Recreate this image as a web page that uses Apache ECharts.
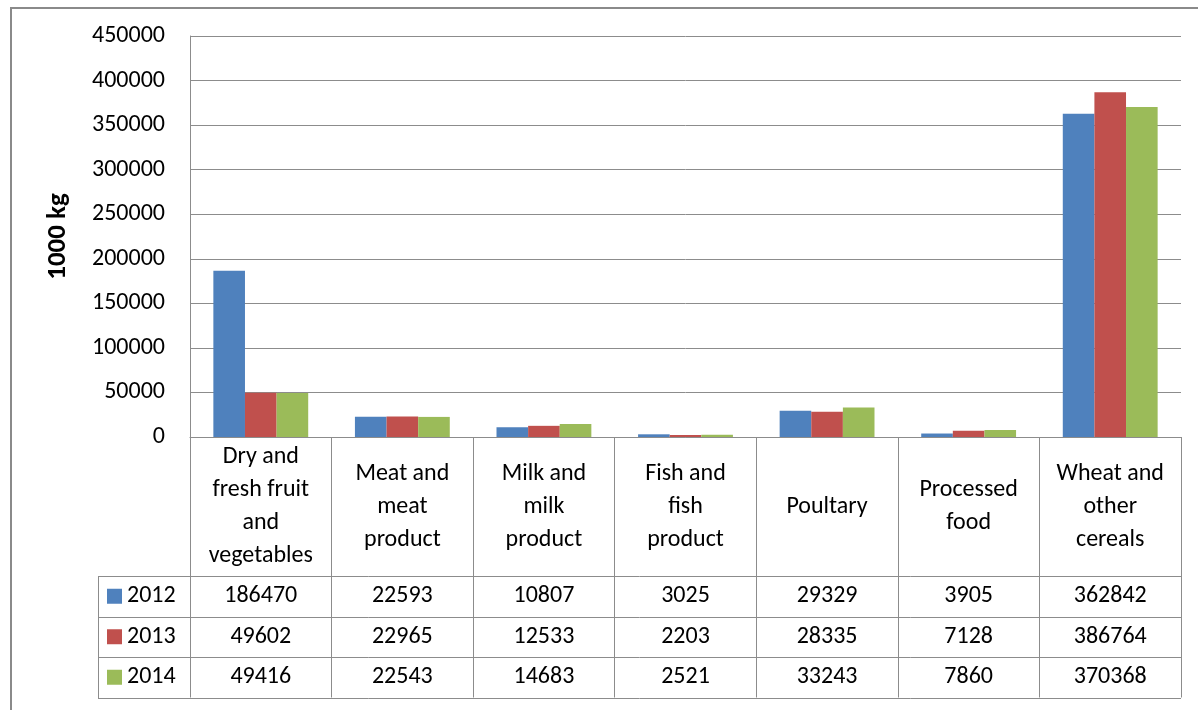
<!DOCTYPE html>
<html>
<head>
<meta charset="utf-8">
<script src="https://cdn.jsdelivr.net/npm/echarts@6/dist/echarts.min.js"></script>
<style>
  html, body { margin: 0; padding: 0; background: #fff; }
  #chart { width: 1198px; height: 710px; }
</style>
</head>
<body>
<div id="chart"></div>
<script>
// Food imports by product group, 2012-2014 (1000 kg)
const categories = [
  'Dry and\nfresh fruit\nand\nvegetables',
  'Meat and\nmeat\nproduct',
  'Milk and\nmilk\nproduct',
  'Fish and\nfish\nproduct',
  'Poultary',
  'Processed\nfood',
  'Wheat and\nother\ncereals'
];
const years = ['2012', '2013', '2014'];
const values2012 = [186470, 22593, 10807, 3025, 29329, 3905, 362842];
const values2013 = [49602, 22965, 12533, 2203, 28335, 7128, 386764];
const values2014 = [49416, 22543, 14683, 2521, 33243, 7860, 370368];
const yTicks = { min: 0, max: 450000, interval: 50000 };

const seriesValues = [values2012, values2013, values2014];
const colors = ['#4F81BD', '#C0504D', '#9BBB59'];
const FONT = 'Carlito, Lato, sans-serif';
const GRID_COLOR = '#8c8c8c';

// layout of the plot and the data table under it
const grid = { left: 190, right: 17, top: 36, bottom: 273 };
const headerH = 139;      // row holding the category names
const rowH = 40.5;        // one row per year
const tableLeft = 98;
const W = 1198, H = 710;
const axisY = H - grid.bottom;
const tableRight = W - grid.right;

// one hidden category axis per year row, whose labels are the table values
const valueAxes = seriesValues.map((vals, i) => ({
  type: 'category',
  gridIndex: 0,
  position: 'bottom',
  data: categories,
  offset: headerH + rowH * (i + 0.5),
  axisLine: { show: false },
  axisTick: { show: false },
  splitLine: { show: false },
  axisLabel: {
    interval: 0,
    margin: 0,
    verticalAlign: 'middle',
    fontFamily: FONT,
    fontSize: 24,
    color: '#000',
    formatter: (v, idx) => String(vals[idx])
  }
}));

// table rules
const lines = [];
for (let i = 0; i <= 3; i++) {
  const y = Math.round(axisY + headerH + rowH * i) + 0.5;
  lines.push({ type: 'line', shape: { x1: tableLeft, y1: y, x2: tableRight, y2: y },
    style: { stroke: GRID_COLOR, lineWidth: 1 } });
}
lines.push({ type: 'line',
  shape: { x1: tableLeft + 0.5, y1: Math.round(axisY + headerH) + 0.5, x2: tableLeft + 0.5, y2: Math.round(axisY + headerH + rowH * 3) + 0.5 },
  style: { stroke: GRID_COLOR, lineWidth: 1 } });
// outer frame
lines.push({ type: 'line', shape: { x1: 10, y1: 8, x2: W, y2: 8 }, style: { stroke: '#8a8a8a', lineWidth: 2 } });
lines.push({ type: 'line', shape: { x1: 11, y1: 8, x2: 11, y2: H }, style: { stroke: '#8a8a8a', lineWidth: 2 } });

const chart = echarts.init(document.getElementById('chart'), null, { renderer: 'canvas' });
chart.setOption({
  animation: false,
  backgroundColor: '#fff',
  color: colors,
  grid: { left: grid.left, right: grid.right, top: grid.top, bottom: grid.bottom, containLabel: false },
  legend: years.map((y, i) => ({
    data: [{ name: y, icon: 'rect' }],
    orient: 'vertical',
    left: 107,
    top: axisY + headerH + rowH * (i + 0.5) - 12,
    padding: 0,
    itemWidth: 15,
    itemHeight: 15,
    itemGap: 4,
    selectedMode: false,
    textStyle: { fontFamily: FONT, fontSize: 24, color: '#000', padding: [0, 0, 0, 0] }
  })),
  xAxis: [{
    type: 'category',
    gridIndex: 0,
    position: 'bottom',
    data: categories,
    axisLine: { show: true, lineStyle: { color: GRID_COLOR, width: 1 } },
    axisTick: { show: true, length: headerH + rowH * 3, lineStyle: { color: GRID_COLOR, width: 1 } },
    axisLabel: {
      interval: 0,
      margin: headerH / 2,
      verticalAlign: 'middle',
      lineHeight: 33,
      fontFamily: FONT,
      fontSize: 24,
      color: '#000'
    },
    splitLine: { show: false }
  }].concat(valueAxes),
  yAxis: {
    type: 'value',
    min: yTicks.min,
    max: yTicks.max,
    interval: yTicks.interval,
    name: '1000 kg',
    nameLocation: 'middle',
    nameRotate: 90,
    nameGap: 118,
    nameTextStyle: { fontFamily: FONT, fontSize: 27, fontWeight: 'bold', color: '#000' },
    axisLine: { show: true, lineStyle: { color: GRID_COLOR, width: 1 } },
    axisTick: { show: false },
    axisLabel: { margin: 25, fontFamily: FONT, fontSize: 24, color: '#000', formatter: v => String(v) },
    splitLine: { show: true, lineStyle: { color: GRID_COLOR, width: 1 } }
  },
  series: years.map((y, i) => ({
    name: y,
    type: 'bar',
    xAxisIndex: 0,
    barGap: 0,
    barCategoryGap: '33%',
    data: seriesValues[i],
    itemStyle: { color: colors[i] }
  })),
  graphic: lines
});
</script>
</body>
</html>
